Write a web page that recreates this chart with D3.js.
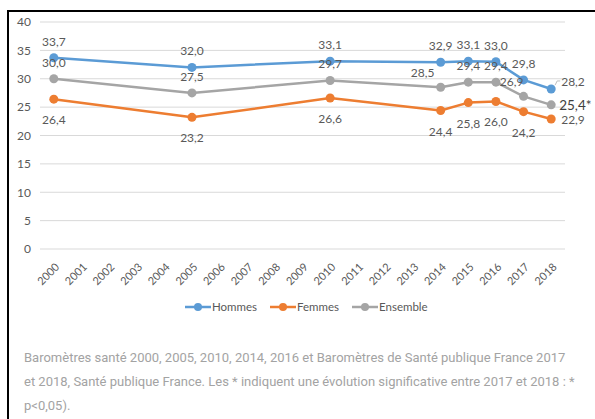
<!DOCTYPE html>
<html>
<head>
<meta charset="utf-8">
<script src="https://cdn.jsdelivr.net/npm/d3@7"></script>
<style>
  body { margin: 0; background: #fff; }
  svg { display: block; }
</style>
</head>
<body>
<svg id="chart" width="595" height="419"></svg>
<script>
// years on the axis, and the survey years that have values
const years = d3.range(2000, 2019).map(String);
const surveyYears = ["2000", "2005", "2010", "2014", "2015", "2016", "2017", "2018"];

const hommes   = [33.7, 32.0, 33.1, 32.9, 33.1, 33.0, 29.8, 28.2];
const femmes   = [26.4, 23.2, 26.6, 24.4, 25.8, 26.0, 24.2, 22.9];
const ensemble = [30.0, 27.5, 29.7, 28.5, 29.4, 29.4, 26.9, 25.4];

const yTicks = [0, 5, 10, 15, 20, 25, 30, 35, 40];

const seriesList = [
    { name: "Hommes",   values: hommes,   color: "#5B9BD5", side: "up" },
    { name: "Femmes",   values: femmes,   color: "#ED7D31", side: "down" },
    { name: "Ensemble", values: ensemble, color: "#A5A5A5", side: "up" }
];

const caption = [
    "Baromètres santé 2000, 2005, 2010, 2014, 2016 et Baromètres de Santé publique France 2017",
    "et 2018, Santé publique France. Les * indiquent une évolution significative entre 2017 et 2018 : *",
    "p<0,05)."
];

// a few labels are nudged like in the original (moved by hand)
const labelNudge = {
    "Ensemble-2014": [-18, 2],
    "Ensemble-2017": [-12, 2]
};

const FONT = "Lato";
const svg = d3.select("#chart");

// frame (left and top rule)
svg.append("line").attr("x1", 8).attr("x2", 595).attr("y1", 11).attr("y2", 11)
    .attr("stroke", "#000").attr("stroke-width", 2);
svg.append("line").attr("x1", 8).attr("x2", 8).attr("y1", 10).attr("y2", 419)
    .attr("stroke", "#000").attr("stroke-width", 2);

const x = d3.scalePoint().domain(years).range([40, 565]).padding(0.5);
const y = d3.scaleLinear().domain([0, 40]).range([249, 22]);

// grid
svg.append("g").selectAll("line").data(yTicks).enter().append("line")
    .attr("x1", 40).attr("x2", 565)
    .attr("y1", d => y(d)).attr("y2", d => y(d))
    .attr("stroke", "#d9d9d9").attr("stroke-width", 1);

// y axis labels
const yAxis = svg.append("g").attr("transform", "translate(31,0)")
    .call(d3.axisLeft(y).tickValues(yTicks).tickSize(0).tickPadding(0));
yAxis.select(".domain").remove();
yAxis.selectAll("text").attr("font-family", FONT).attr("font-size", 12).attr("fill", "#595959");

// x axis labels, rotated
const xAxis = svg.append("g").attr("transform", "translate(0,265)")
    .call(d3.axisBottom(x).tickSize(0).tickPadding(0));
xAxis.select(".domain").remove();
xAxis.selectAll("text")
    .attr("font-family", FONT).attr("font-size", 11).attr("fill", "#595959")
    .attr("text-anchor", "end")
    .attr("transform", "translate(3,0) rotate(-45)")
    .attr("dy", "0.35em");

const line = d3.line().x(d => x(d.year)).y(d => y(d.value));

seriesList.forEach(s => {
    const pts = s.values.map((v, i) => ({ year: surveyYears[i], value: v }));
    const g = svg.append("g");
    g.append("path").datum(pts).attr("d", line)
        .attr("fill", "none").attr("stroke", s.color).attr("stroke-width", 2.5)
        .attr("stroke-linejoin", "round");
    g.selectAll("circle").data(pts).enter().append("circle")
        .attr("cx", d => x(d.year)).attr("cy", d => y(d.value)).attr("r", 4.5)
        .attr("fill", s.color);

    const isStar = d => d.year === "2018" && s.name === "Ensemble";

    // data labels
    g.selectAll("text").data(pts).enter().append("text")
        .attr("font-family", FONT)
        .attr("text-anchor", d => d.year === "2018" ? "start" : "middle")
        .attr("x", d => {
            const n = labelNudge[s.name + "-" + d.year];
            if (d.year === "2018") return x(d.year) + (isStar(d) ? 8 : 10);
            return x(d.year) + (n ? n[0] : 0);
        })
        .attr("y", d => {
            const n = labelNudge[s.name + "-" + d.year];
            if (d.year === "2018") {
                if (s.name === "Hommes") return y(d.value) - 3;
                return y(d.value) + 5;
            }
            const base = s.side === "up" ? y(d.value) - 12 : y(d.value) + 25;
            return base + (n ? n[1] : 0);
        })
        .attr("font-size", d => isStar(d) ? 13.5 : 12)
        .attr("fill", d => isStar(d) ? "#404040" : "#595959")
        .text(d => d3.format(".1f")(d.value).replace(".", ",") + (isStar(d) ? "*" : ""));
});

// leader line for the 2018 Hommes label
const lx = x("2018"), ly = y(hommes[7]);
svg.append("path")
    .attr("d", `M${lx + 4},${ly - 4} L${lx + 6},${ly - 8} L${lx + 9},${ly - 8}`)
    .attr("fill", "none").attr("stroke", "#bfbfbf").attr("stroke-width", 1);

// legend
const legendX = [185, 270, 352];
const legend = svg.append("g").selectAll("g").data(seriesList).enter().append("g")
    .attr("transform", (d, i) => `translate(${legendX[i]},307)`);
legend.append("line").attr("x1", 0).attr("x2", 26)
    .attr("stroke", d => d.color).attr("stroke-width", 2.5);
legend.append("circle").attr("cx", 13).attr("r", 4).attr("fill", d => d.color);
legend.append("text").attr("x", 27).attr("dy", "0.35em")
    .attr("font-family", FONT).attr("font-size", 11.5).attr("fill", "#595959")
    .text(d => d.name);

// source caption
svg.append("g").selectAll("text").data(caption).enter().append("text")
    .attr("x", 24).attr("y", (d, i) => 362 + i * 24)
    .attr("font-family", "Roboto").attr("font-size", 13).attr("fill", "#a3a3a3")
    .text(d => d);
</script>
</body>
</html>
